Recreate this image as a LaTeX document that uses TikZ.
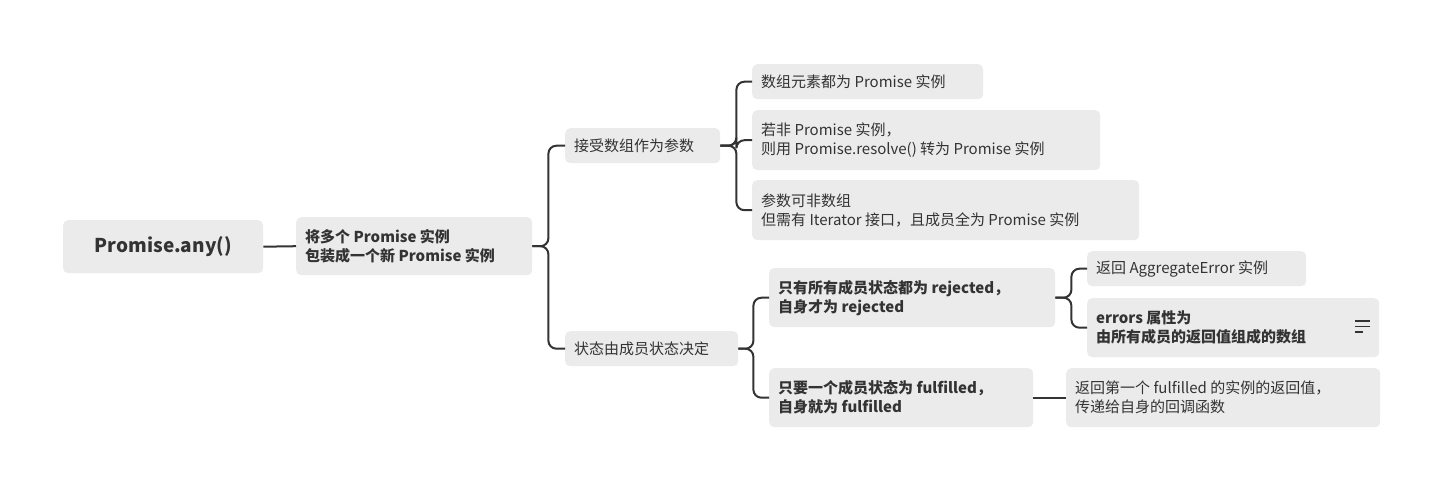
\documentclass[tikz,border=0pt]{standalone}
\usepackage{fontspec}
\setmainfont{Noto Sans CJK SC}
\usetikzlibrary{calc}
\definecolor{bx}{HTML}{EBEBEB}
\definecolor{tx}{HTML}{333333}
\tikzset{
  bxn/.style={fill=bx,rounded corners=5pt,anchor=north west,inner sep=0pt,text=tx,font=\fontsize{15}{19}\selectfont},
  ln/.style={draw=tx,line width=2pt,rounded corners=8pt}
}
\newcommand{\bnode}[7]{% name, x1,y1,x2,y2, extra, text
  \node[bxn,#6,minimum width={(#4-#2)*1pt},minimum height={(#5-#3)*1pt}] (#1) at (#2,#3) {};
  \node[anchor=west,text=tx,align=left,inner sep=0pt,font=\fontsize{15}{19}\selectfont,#6] at ($(#1.west)+(9,0)$) {#7};
}
\begin{document}
\begin{tikzpicture}[x=1pt,y=-1pt]
\fill[white] (0,0) rectangle (1443,490);
\useasboundingbox (0,0) rectangle (1443,490);
\node[bxn,minimum width=200pt,minimum height=53pt] (r) at (63,220) {};
\node[font=\fontsize{19}{23}\selectfont\bfseries,text=tx] at (r.center) {Promise.any()};
\bnode{n}{296}{217}{532}{275}{font=\fontsize{15}{19}\selectfont\bfseries}{将多个 Promise 实例\\包装成一个新 Promise 实例}
\bnode{a}{565}{128}{720}{163}{}{接受数组作为参数}
\bnode{b}{565}{331}{738}{366}{}{状态由成员状态决定}
\bnode{a1}{752}{64}{983}{99}{}{数组元素都为 Promise 实例}
\bnode{a2}{752}{110}{1100}{170}{}{若非 Promise 实例，\\则用 Promise.resolve() 转为 Promise 实例}
\bnode{a3}{752}{180}{1139}{240}{}{参数可非数组\\但需有 Iterator 接口，且成员全为 Promise 实例}
\bnode{b1}{769}{268}{1055}{327}{font=\fontsize{15}{19}\selectfont\bfseries}{只有所有成员状态都为 rejected，\\自身才为 rejected}
\bnode{b2}{769}{368}{1033}{427}{font=\fontsize{15}{19}\selectfont\bfseries}{只要一个成员状态为 fulfilled，\\自身就为 fulfilled}
\bnode{c1}{1087}{251}{1306}{286}{}{返回 AggregateError 实例}
\bnode{c2}{1087}{298}{1379}{357}{font=\fontsize{15}{19}\selectfont\bfseries}{errors 属性为\\由所有成员的返回值组成的数组}
\bnode{d1}{1066}{368}{1380}{427}{}{返回第一个 fulfilled 的实例的返回值，\\传递给自身的回调函数}
\draw[tx,line width=1.3pt] (1355,321) -- (1370,321) (1355,326.5) -- (1370,326.5) (1355,332) -- (1363,332);
\draw[ln] (r.east) -- (n.west);
\foreach \c in {a,b} \draw[ln] (n.east) -- ++(16,0) |- (\c.west);
\foreach \c in {a1,a2,a3} \draw[ln] (a.east) -- ++(16,0) |- (\c.west);
\foreach \c in {b1,b2} \draw[ln] (b.east) -- ++(15,0) |- (\c.west);
\foreach \c in {c1,c2} \draw[ln] (b1.east) -- ++(16,0) |- (\c.west);
\draw[ln] (b2.east) -- (d1.west);
\end{tikzpicture}
\end{document}
